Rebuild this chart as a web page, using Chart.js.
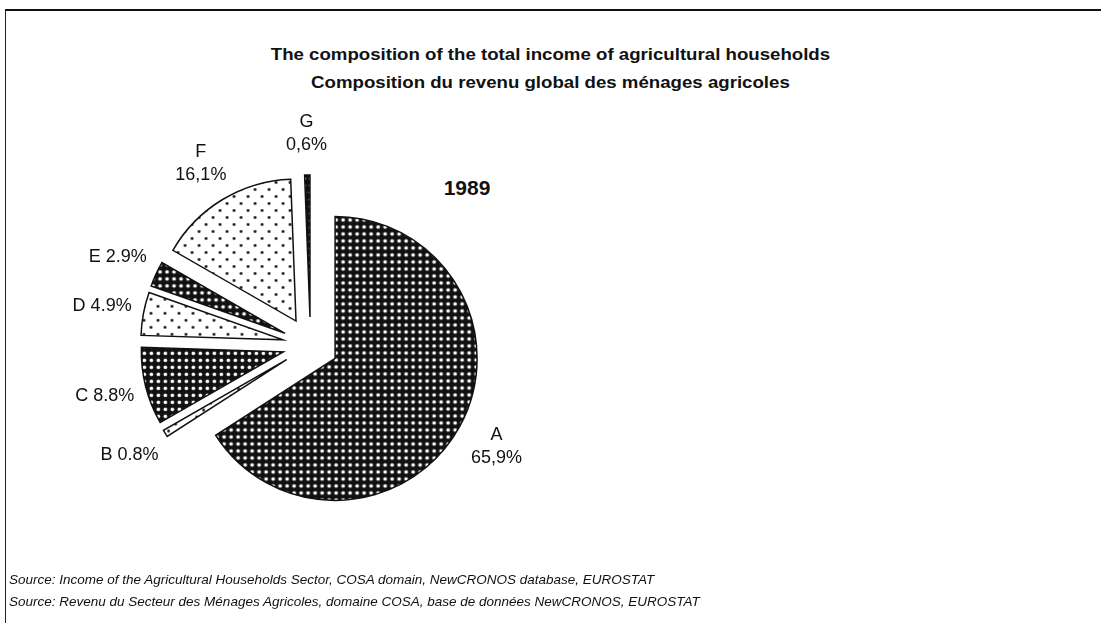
<!DOCTYPE html>
<html>
<head>
<meta charset="utf-8">
<script src="https://cdn.jsdelivr.net/npm/chart.js@4/dist/chart.umd.min.js"></script>
<style>
  html, body { margin: 0; padding: 0; background: #fff; }
  body { width: 1101px; height: 628px; position: relative; overflow: hidden;
         font-family: 'Liberation Sans', Arial, sans-serif; color: #111; }
  #frame { position: absolute; left: 5px; top: 9px; width: 1096px; height: 612px;
           border-top: 2px solid #111; border-left: 1px solid #222; }
  #title { position: absolute; left: 0; width: 1101px; top: 40px; text-align: center;
           font-weight: bold; font-size: 16.5px; line-height: 28px;
           transform: scaleX(1.13); transform-origin: 551px 0; }
  #year { position: absolute; left: 417px; width: 100px; top: 176px; text-align: center;
          font-weight: bold; font-size: 21px; }
  #source { position: absolute; left: 9px; top: 569px; font-style: italic;
            font-size: 13.5px; line-height: 22px; }
  #pie { position: absolute; left: 0; top: 0; }
</style>
</head>
<body>
<div id="frame"></div>
<div id="title">The composition of the total income of agricultural households<br>Composition du revenu global des ménages agricoles</div>
<div id="year">1989</div>
<canvas id="pie" width="1101" height="628"></canvas>
<div id="source">Source: Income of the Agricultural Households Sector, COSA domain, NewCRONOS database, EUROSTAT<br>Source: Revenu du Secteur des Ménages Agricoles, domaine COSA, base de données NewCRONOS, EUROSTAT</div>
<script>
const categories = ['A', 'B', 'C', 'D', 'E', 'F', 'G'];
const shares = [65.9, 0.8, 8.8, 4.9, 2.9, 16.1, 0.6];
const shareLabels = ['65,9%', '0.8%', '8.8%', '4.9%', '2.9%', '16,1%', '0,6%'];

// hatch-like fills of the printed original
function makePattern(dark) {
  const c = document.createElement('canvas');
  const s = dark ? 7 : 14;
  c.width = s; c.height = s;
  const g = c.getContext('2d');
  g.fillStyle = dark ? '#111' : '#fff';
  g.fillRect(0, 0, s, s);
  g.fillStyle = dark ? '#fff' : '#111';
  const dots = dark ? [[3.5, 3.5]] : [[3.5, 3.5], [10.5, 10.5]];
  dots.forEach(([x, y]) => {
    g.beginPath();
    g.arc(x, y, dark ? 1.85 : 1.4, 0, Math.PI * 2);
    g.fill();
  });
  return g.createPattern(c, 'repeat');
}
const darkFill = makePattern(true);
const lightFill = makePattern(false);
const fills = [darkFill, lightFill, darkFill, lightFill, darkFill, lightFill, darkFill];

// every slice pulled out by the same distance (Chart's own offset also grows the radius)
const EXPLODE = 28;
const arcDraw = Chart.ArcElement.prototype.draw;
Chart.ArcElement.prototype.draw = function (ctx) {
  const mid = (this.startAngle + this.endAngle) / 2;
  ctx.save();
  ctx.translate(Math.cos(mid) * EXPLODE, Math.sin(mid) * EXPLODE);
  arcDraw.call(this, ctx);
  ctx.restore();
};

const stacked = ['A', 'F', 'G'];
const sliceLabels = {
  id: 'sliceLabels',
  afterDatasetsDraw(chart) {
    const ctx = chart.ctx;
    const meta = chart.getDatasetMeta(0);
    ctx.save();
    ctx.fillStyle = '#111';
    ctx.font = '18px "Liberation Sans", Arial, sans-serif';
    ctx.textAlign = 'center';
    ctx.textBaseline = 'middle';
    meta.data.forEach((arc, i) => {
      const mid = (arc.startAngle + arc.endAngle) / 2;
      const r = arc.outerRadius + EXPLODE + 42;
      const x = arc.x + Math.cos(mid) * r;
      const y = arc.y + Math.sin(mid) * r;
      if (stacked.includes(categories[i])) {
        ctx.fillText(categories[i], x, y - 11.5);
        ctx.fillText(shareLabels[i], x, y + 11.5);
      } else {
        ctx.fillText(categories[i] + ' ' + shareLabels[i], x, y);
      }
    });
    ctx.restore();
  }
};

const config = {
  type: 'pie',
  data: {
    labels: categories,
    datasets: [{
      data: shares,
      backgroundColor: fills,
      borderColor: '#111',
      borderWidth: 1.5,
      borderJoinStyle: 'miter',
    }],
  },
  options: {
    responsive: false,
    animation: false,
    radius: 142,
    layout: {
      padding: { left: 110, right: 590, top: 145, bottom: 83 },
    },
    plugins: {
      legend: { display: false },
      tooltip: { enabled: false },
    },
  },
  plugins: [sliceLabels],
};

const pieChart = new Chart(document.getElementById('pie'), config);
</script>
</body>
</html>
